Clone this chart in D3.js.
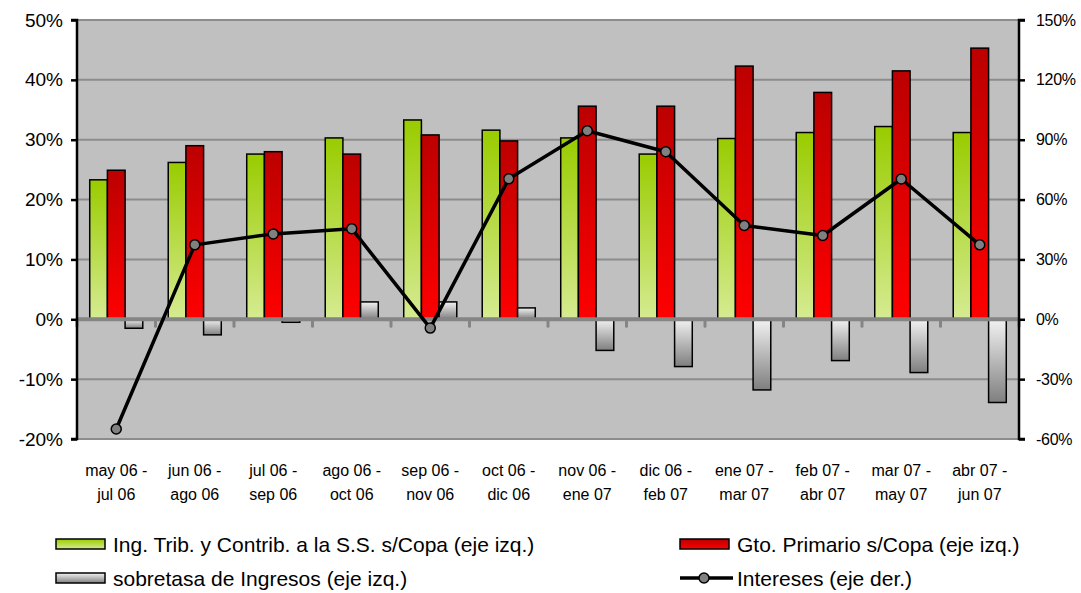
<!DOCTYPE html>
<html>
<head>
<meta charset="utf-8">
<script src="https://cdn.jsdelivr.net/npm/d3@7"></script>
<style>
  html, body { margin: 0; padding: 0; background: #ffffff; }
  svg { display: block; font-family: "Liberation Sans", Arial, sans-serif; }
</style>
</head>
<body>
<svg id="chart" width="1081" height="593"></svg>
<script>
// ---- data ----
const periodStart = ["may 06 -", "jun 06 -", "jul 06 -", "ago 06 -", "sep 06 -", "oct 06 -",
                     "nov 06 -", "dic 06 -", "ene 07 -", "feb 07 -", "mar 07 -", "abr 07 -"];
const periodEnd   = ["jul 06", "ago 06", "sep 06", "oct 06", "nov 06", "dic 06",
                     "ene 07", "feb 07", "mar 07", "abr 07", "may 07", "jun 07"];
const ingresos    = [23.3, 26.2, 27.6, 30.3, 33.3, 31.6, 30.3, 27.6, 30.2, 31.2, 32.2, 31.2];
const gasto       = [24.9, 29.0, 28.0, 27.6, 30.8, 29.8, 35.6, 35.6, 42.3, 37.9, 41.5, 45.3];
const sobretasa   = [-1.5, -2.6, -0.5, 2.9, 2.9, 1.9, -5.2, -7.9, -11.8, -6.9, -8.9, -13.9];
const intereses   = [-55.0, 37.3, 42.8, 45.4, -4.4, 70.4, 94.5, 84.0, 47.0, 42.0, 70.3, 37.3];
const leftTicks   = [-20, -10, 0, 10, 20, 30, 40, 50];
const rightTicks  = [-60, -30, 0, 30, 60, 90, 120, 150];
const legendLabels = ["Ing. Trib. y Contrib. a la S.S. s/Copa (eje izq.)",
                      "Gto. Primario s/Copa (eje izq.)",
                      "sobretasa de Ingresos (eje izq.)",
                      "Intereses (eje der.)"];

// ---- layout ----
const svg = d3.select("#chart");
const L = 77, R = 1019, T = 20, B = 439;

const x = d3.scaleBand().domain(d3.range(periodStart.length)).range([L, R]).padding(0);
const xs = d3.scaleBand().domain([0, 1, 2]).range([0, x.bandwidth()]).paddingInner(0).paddingOuter(0.72);
const yL = d3.scaleLinear().domain([-20, 50]).range([B, T]);
const yR = d3.scaleLinear().domain([-60, 150]).range([B, T]);

// gradients
const defs = svg.append("defs");
function vgrad(id, top, bottom) {
  const g = defs.append("linearGradient").attr("id", id)
    .attr("x1", 0).attr("y1", 0).attr("x2", 0).attr("y2", 1);
  g.append("stop").attr("offset", "0%").attr("stop-color", top);
  g.append("stop").attr("offset", "100%").attr("stop-color", bottom);
}
vgrad("gGreen", "#99CC00", "#D6EB92");
vgrad("gRed", "#BC0000", "#FF0000");
vgrad("gGrey", "#F2F2F2", "#7F7F7F");

// plot background
svg.append("rect").attr("x", L).attr("y", T).attr("width", R - L).attr("height", B - T)
  .attr("fill", "#C0C0C0");

// gridlines
svg.append("g").selectAll("line").data(leftTicks.filter(d => d !== 0)).join("line")
  .attr("x1", L).attr("x2", R)
  .attr("y1", d => yL(d)).attr("y2", d => yL(d))
  .attr("stroke", "#8C8C8C").attr("stroke-width", 2);

// bars
const series = [
  { vals: ingresos, fill: "url(#gGreen)" },
  { vals: gasto, fill: "url(#gRed)" },
  { vals: sobretasa, fill: "url(#gGrey)" }
];
series.forEach((s, si) => {
  svg.append("g").selectAll("rect").data(s.vals).join("rect")
    .attr("x", (d, i) => x(i) + xs(si))
    .attr("width", xs.bandwidth())
    .attr("y", d => yL(Math.max(0, d)))
    .attr("height", d => Math.abs(yL(d) - yL(0)))
    .attr("fill", s.fill)
    .attr("stroke", "#000").attr("stroke-width", 1.5);
});

// zero axis line with category ticks
svg.append("line").attr("x1", L).attr("x2", R).attr("y1", yL(0)).attr("y2", yL(0))
  .attr("stroke", "#858585").attr("stroke-width", 4);
svg.append("g").selectAll("line").data(d3.range(periodStart.length + 1)).join("line")
  .attr("x1", i => L + i * x.bandwidth()).attr("x2", i => L + i * x.bandwidth())
  .attr("y1", yL(0)).attr("y2", yL(0) + 7)
  .attr("stroke", "#858585").attr("stroke-width", 3).attr("stroke-linecap", "round");

// left axis
const axL = svg.append("g").attr("transform", `translate(${L},0)`)
  .call(d3.axisLeft(yL).tickValues(leftTicks).tickSize(6).tickPadding(8).tickFormat(d => d + "%"));
axL.select(".domain").attr("stroke", "#000").attr("stroke-width", 2.5).attr("d", `M-6,${T}H0V${B}H-6`);
axL.selectAll(".tick line").attr("stroke", "#000").attr("stroke-width", 2.5);
axL.selectAll(".tick text").attr("font-size", 19).attr("fill", "#000")
  .attr("font-family", "Liberation Sans, Arial, sans-serif");

// right axis
const axR = svg.append("g").attr("transform", `translate(${R},0)`)
  .call(d3.axisRight(yR).tickValues(rightTicks).tickSize(6).tickPadding(11).tickFormat(d => d + "%"));
axR.select(".domain").attr("stroke", "#000").attr("stroke-width", 2.5).attr("d", `M6,${T}H0V${B}H6`);
axR.selectAll(".tick line").attr("stroke", "#000").attr("stroke-width", 2.5);
axR.selectAll(".tick text").attr("font-size", 16).attr("fill", "#000")
  .attr("font-family", "Liberation Sans, Arial, sans-serif").attr("letter-spacing", -0.3);

// line series
const cx = i => x(i) + x.bandwidth() / 2;
const line = d3.line().x((d, i) => cx(i)).y(d => yR(d));
svg.append("path").datum(intereses).attr("d", line)
  .attr("fill", "none").attr("stroke", "#000").attr("stroke-width", 3.5).attr("stroke-linejoin", "round");
svg.append("g").selectAll("circle").data(intereses).join("circle")
  .attr("cx", (d, i) => cx(i)).attr("cy", d => yR(d)).attr("r", 5)
  .attr("fill", "#808080").attr("stroke", "#000").attr("stroke-width", 1.5);

// category labels
const xl = svg.append("g").attr("font-size", 16).attr("fill", "#000").attr("text-anchor", "middle");
xl.selectAll("text.l1").data(periodStart).join("text").attr("class", "l1")
  .attr("x", (d, i) => cx(i)).attr("y", 476).text(d => d);
xl.selectAll("text.l2").data(periodEnd).join("text").attr("class", "l2")
  .attr("x", (d, i) => cx(i)).attr("y", 500).text(d => d);

// legend
const leg = svg.append("g").attr("font-size", 21).attr("fill", "#000");
const legItems = [
  { x: 56, y: 544, type: "rect", fill: "url(#gGreen)" },
  { x: 680, y: 544, type: "rect", fill: "url(#gRed)" },
  { x: 56, y: 578, type: "rect", fill: "url(#gGrey)" },
  { x: 680, y: 578, type: "line" }
];
legItems.forEach((it, k) => {
  const g = leg.append("g");
  if (it.type === "rect") {
    g.append("rect").attr("x", it.x).attr("y", it.y - 5).attr("width", 49).attr("height", 10)
      .attr("fill", it.fill).attr("stroke", "#000").attr("stroke-width", 1.5);
  } else {
    g.append("line").attr("x1", it.x).attr("x2", it.x + 53).attr("y1", it.y).attr("y2", it.y)
      .attr("stroke", "#000").attr("stroke-width", 3.5);
    g.append("circle").attr("cx", it.x + 24).attr("cy", it.y).attr("r", 5)
      .attr("fill", "#808080").attr("stroke", "#000").attr("stroke-width", 1.5);
  }
  g.append("text").attr("x", it.x + 57).attr("y", it.y + 8).text(legendLabels[k]);
});
</script>
</body>
</html>
